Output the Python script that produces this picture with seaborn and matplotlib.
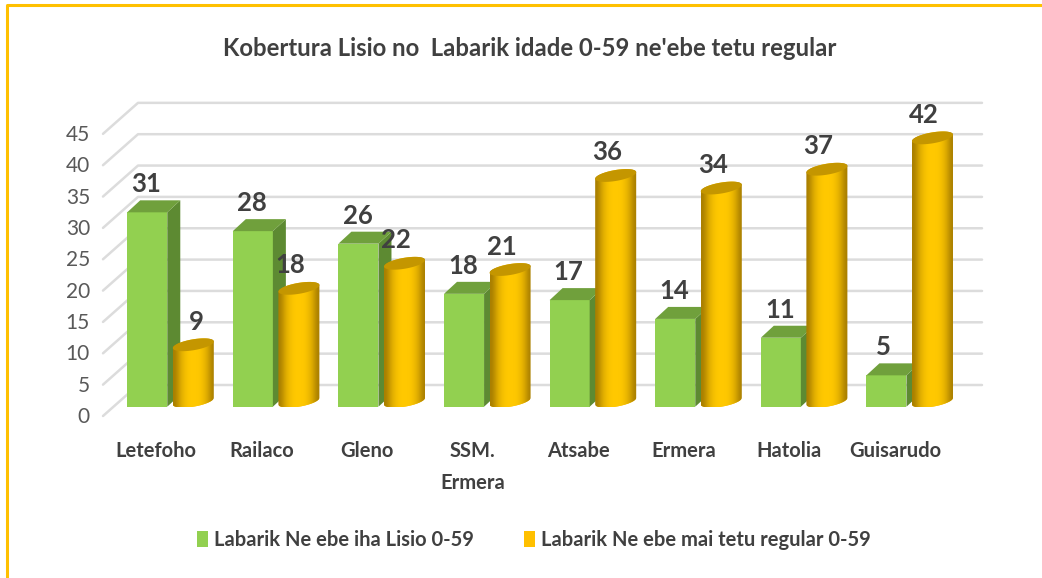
#!/usr/bin/env python3
"""Kobertura Lisio bar chart, faux 3D look on top of seaborn bars."""

import matplotlib

matplotlib.use("Agg")

import matplotlib.pyplot as plt
import numpy as np
import pandas as pd
import seaborn as sns
from matplotlib.lines import Line2D
from matplotlib.patches import Polygon

categories = ["Letefoho", "Railaco", "Gleno", "SSM.\nErmera", "Atsabe", "Ermera", "Hatolia", "Guisarudo"]
lisio = [31, 28, 26, 18, 17, 14, 11, 5]
regular = [9, 18, 22, 21, 36, 34, 37, 42]
series_names = ["Labarik Ne ebe iha Lisio 0-59", "Labarik Ne ebe mai tetu regular 0-59"]
y_ticks = list(range(0, 50, 5))
title = "Kobertura Lisio no  Labarik idade 0-59 ne'ebe tetu regular"

GREEN, GREEN_TOP, GREEN_SIDE = "#92D050", "#70A03C", "#5D8A32"
ORANGE, ORANGE_TOP, ORANGE_EDGE = "#FFC000", "#C49600", "#A87E00"
GRID = "#DCDCDC"
TEXT = "#404040"
FONT = ["Lato", "DejaVu Sans"]
W, H = 1042, 578
PX_X = 105.57  # pixels per category
PX_Y = 6.27  # pixels per unit


def dx(px):
    return px / PX_X


def dy(px):
    return px / PX_Y


def ellipse_points(cx, cy, a, b, start, stop, tilt=0.16):
    t = np.linspace(start, stop, 60)
    return np.column_stack(
        [cx + dx(a) * np.cos(t), cy + dy(b) * np.sin(t) + dy(tilt * a) * np.cos(t)]
    )


sns.set_style("white")
plt.rcParams["font.family"] = FONT

frame = pd.DataFrame(
    {
        "category": categories * 2,
        "value": lisio + regular,
        "series": [series_names[0]] * len(categories) + [series_names[1]] * len(categories),
    }
)

fig = plt.figure(figsize=(W / 100, H / 100), dpi=100)
ax = fig.add_axes([103 / W, (H - 416) / H, (982 - 103) / W, (416 - 90) / H])
sns.barplot(
    data=frame,
    x="category",
    y="value",
    hue="series",
    order=categories,
    hue_order=series_names,
    palette=[GREEN, ORANGE],
    saturation=1,
    width=0.872,
    gap=0.13,
    errorbar=None,
    linewidth=0,
    ax=ax,
    zorder=3,
)

xlim = (-0.637, 7.687)
ylim = (-dy(9.3), dy(406.7 - 90))

# back wall and diagonal floor/wall lines
back_x = xlim[0] + dx(35)
for v in y_ticks:
    front_y, back_y = v - dy(9.3), v + dy(21.7)
    ax.plot([xlim[0], back_x, xlim[1]], [front_y, back_y, back_y], color=GRID, lw=1.8, zorder=1, clip_on=False)

# green boxes
for bar, val in zip(ax.containers[0], lisio):
    x0, x1 = bar.get_x(), bar.get_x() + bar.get_width()
    ox, oy = dx(13), dy(12)
    ax.add_patch(Polygon([(x1, 0), (x1 + ox, oy), (x1 + ox, val + oy), (x1, val)], color=GREEN_SIDE, lw=0, zorder=3))
    ax.add_patch(Polygon([(x0, val), (x0 + ox, val + oy), (x1 + ox, val + oy), (x1, val)], color=GREEN_TOP, lw=0, zorder=3))
    shift = -3 if val < 10 else -1
    ax.text((x0 + x1) / 2 + dx(shift), val + dy(28), str(val), ha="center", va="center", fontsize=18.5, fontweight="bold", color=TEXT, zorder=8)

# orange cylinders
shade = np.array([[0.0, 0.55, 0.85, 1.0, 1.0, 1.0, 0.85, 0.55, 0.0]])
cmap = matplotlib.colors.LinearSegmentedColormap.from_list("cyl", [ORANGE_EDGE, "#FFC800"])
for i, (bar, val) in enumerate(zip(ax.containers[1], regular)):
    cx = bar.get_x() + bar.get_width() / 2
    half_px = 20.5
    lift = dy(5.5)
    lower = ellipse_points(cx, lift, half_px, 5.5, np.pi, 2 * np.pi)
    upper = ellipse_points(cx, val + lift, half_px, 5.5, 0, np.pi)
    body = Polygon(np.vstack([lower, upper]), closed=True, transform=ax.transData, fc="none", lw=0)
    ax.add_patch(body)
    bar.set_clip_path(body)
    img = ax.imshow(
        shade,
        extent=(cx - dx(half_px), cx + dx(half_px), 0, val + dy(14)),
        cmap=cmap,
        aspect="auto",
        interpolation="bicubic",
        zorder=4 + i * 0.01,
    )
    img.set_clip_path(body)
    top = ellipse_points(cx, val + lift, half_px, 5.5, 0, 2 * np.pi)
    ax.add_patch(Polygon(top, closed=True, color=ORANGE_TOP, lw=0, zorder=5))
    shift = 3 if val < 10 else -8.5
    ax.text(cx + dx(shift), val + dy(5.5 + 23), str(val), ha="center", va="center", fontsize=18.5, fontweight="bold", color=TEXT, zorder=8)

ax.set_xlim(*xlim)
ax.set_ylim(*ylim)
ax.set_xlabel("")
ax.set_ylabel("")
sns.despine(ax=ax, left=True, bottom=True)

ax.set_yticks([v - dy(8.3) for v in y_ticks], [str(v) for v in y_ticks], fontsize=15, color="#595959")
ax.set_xticks([i - dx(14.5) for i in range(len(categories))], categories, fontsize=14.5, fontweight="bold", color=TEXT, linespacing=1.75)
ax.tick_params(axis="both", length=0)
ax.tick_params(axis="x", pad=18)
ax.tick_params(axis="y", pad=9.4)

handles, labels = ax.get_legend_handles_labels()
ax.legend(
    handles,
    labels,
    ncol=2,
    frameon=False,
    loc="center",
    bbox_to_anchor=(534 / W, 1 - 540 / H),
    bbox_transform=fig.transFigure,
    prop={"size": 14.5, "weight": "bold"},
    labelcolor=TEXT,
    handlelength=0.55,
    handleheight=0.8,
    handletextpad=0.3,
    columnspacing=2.5,
)

fig.text(530 / W, 1 - 48 / H, title, ha="center", va="center", fontsize=17.2, fontweight="bold", color=TEXT)

# yellow frame, top and left only
fig.add_artist(Line2D([7 / W, 7 / W, 1], [0, 1 - 5 / H, 1 - 5 / H], color=ORANGE, lw=2.2, transform=fig.transFigure))

fig.savefig("out.png", dpi=100)
